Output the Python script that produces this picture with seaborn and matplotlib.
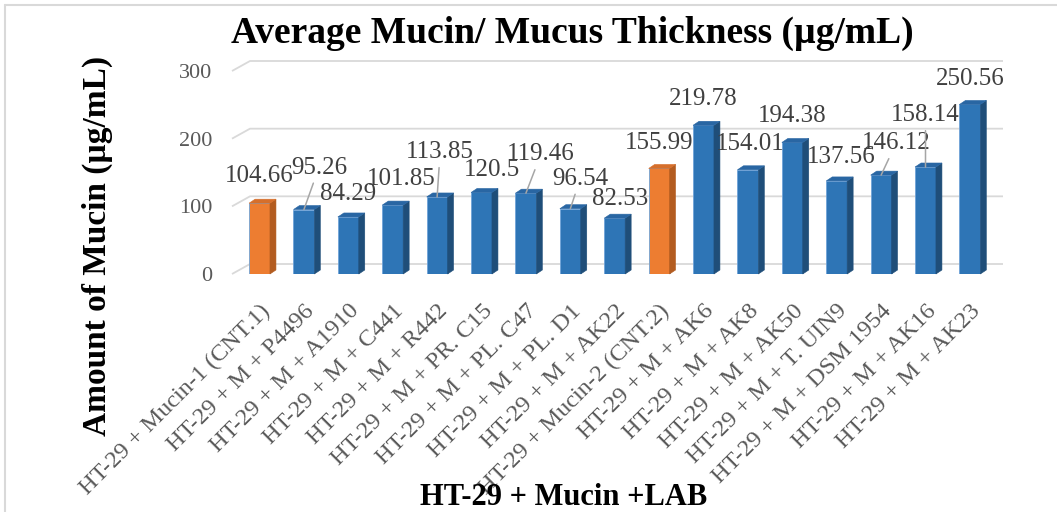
import matplotlib
matplotlib.use("Agg")
import matplotlib.pyplot as plt
import seaborn as sns
import pandas as pd
from matplotlib.patches import Polygon
from matplotlib.lines import Line2D

# ---- data ----
groups = [
    "HT-29 + Mucin-1 (CNT.1)", "HT-29 + M + P4496", "HT-29 + M + A1910",
    "HT-29 + M + C441", "HT-29 + M + R442", "HT-29 + M + PR. C15",
    "HT-29 + M + PL. C47", "HT-29 + M + PL. D1", "HT-29 + M + AK22",
    "HT-29 + Mucin-2 (CNT.2)", "HT-29 + M + AK6", "HT-29 + M + AK8",
    "HT-29 + M + AK50", "HT-29 + M + T. UIN9", "HT-29 + M + DSM 1954",
    "HT-29 + M + AK16", "HT-29 + M + AK23",
]
mucin = [104.66, 95.26, 84.29, 101.85, 113.85, 120.5, 119.46, 96.54, 82.53,
         155.99, 219.78, 154.01, 194.38, 137.56, 146.12, 158.14, 250.56]
is_control = [True, False, False, False, False, False, False, False, False,
              True, False, False, False, False, False, False, False]
y_ticks = [0, 100, 200, 300]

# ---- styling ----
BLUE = ("#2e75b6", "#1f4e79", "#2966a3")      # front, side, top
ORANGE = ("#ed7d31", "#b35c20", "#d66f2b")
GRID = "#d9d9d9"
TICK_C = "#595959"
LABEL_C = "#404040"

# label placement relative to each bar top (pixels) and whether a leader line is drawn
label_offsets = [(0, 27), (15, 42), (0, 23), (9, 26), (3, 45), (10, 22), (15, 39),
                 (10, 30), (5, 19), (0, 25), (0, 26), (2, 26), (0, 26), (5, 24),
                 (15, 32), (0, 52), (0, 25)]
leaders = [False, True, False, False, True, False, True, True, False, False,
           False, False, False, False, True, True, False]

sns.set_theme(style="white")
plt.rcParams["font.family"] = ["Liberation Serif", "DejaVu Serif"]

W, H, DPI = 1057, 512, 100
fig = plt.figure(figsize=(W / DPI, H / DPI), dpi=DPI)
fig.patch.set_facecolor("white")

ax_left, ax_right, ax_top, ax_bottom = 232, 985, 71, 274
ax = fig.add_axes([ax_left / W, (H - ax_bottom) / H,
                   (ax_right - ax_left) / W, (ax_bottom - ax_top) / H])

df = pd.DataFrame({"group": groups, "mucin": mucin})
palette = {g: (ORANGE[0] if c else BLUE[0]) for g, c in zip(groups, is_control)}
sns.barplot(data=df, x="group", y="mucin", hue="group", palette=palette,
            legend=False, width=0.47, saturation=1, ax=ax,
            edgecolor="#6fa3d8", linewidth=0.6, zorder=3)

XMIN, XMAX = -0.62, 16.34
ax.set_xlim(XMIN, XMAX)
ax.set_ylim(0, 300)

# pixel -> data conversion for the pseudo-3D depth
px_x = (XMAX - XMIN) / (ax_right - ax_left)
px_y = 300 / (ax_bottom - ax_top)

# back-wall gridlines with a slanted connector on the left
gdx, gdy = 18 * px_x, 10 * px_y
for yv in y_ticks:
    ax.plot([XMIN, XMIN + gdx, XMAX + gdx], [yv, yv + gdy, yv + gdy],
            color=GRID, lw=1.3, zorder=0.5, clip_on=False, solid_capstyle="butt")

# side and top faces of each column
ddx, ddy = 6 * px_x, 4 * px_y
for patch, ctrl in zip(ax.patches, is_control):
    cols = ORANGE if ctrl else BLUE
    x0 = patch.get_x()
    x1 = x0 + patch.get_width()
    h = patch.get_height()
    side = Polygon([(x1, 0), (x1 + ddx, ddy), (x1 + ddx, h + ddy), (x1, h)],
                   closed=True, facecolor=cols[1], edgecolor=cols[1], lw=0.4,
                   zorder=3, clip_on=False)
    top = Polygon([(x0, h), (x0 + ddx, h + ddy), (x1 + ddx, h + ddy), (x1, h)],
                  closed=True, facecolor=cols[2], edgecolor=cols[2], lw=0.4,
                  zorder=3, clip_on=False)
    ax.add_patch(side)
    ax.add_patch(top)

# value labels
for i, (v, (ox, oy), lead) in enumerate(zip(mucin, label_offsets, leaders)):
    kw = {}
    if lead:
        kw["arrowprops"] = dict(arrowstyle="-", color="#a6a6a6", lw=1.1,
                                shrinkA=1, shrinkB=0)
    ax.annotate(f"{v:g}", xy=(i, v), xytext=(ox, oy), textcoords="offset pixels",
                ha="center", va="center", fontsize=18, color=LABEL_C,
                zorder=5, annotation_clip=False, **kw)

for s in ax.spines.values():
    s.set_visible(False)
ax.grid(False)
ax.set_xlabel("")
ax.set_ylabel("")

ax.set_yticks(y_ticks)
ax.set_yticklabels([str(t) for t in y_ticks], fontsize=16, color=TICK_C)
ax.tick_params(axis="y", length=0, pad=14)

ax.set_xticks(range(len(groups)))
ax.set_xticklabels(groups, rotation=45, ha="right", va="top",
                   rotation_mode="anchor", fontsize=17.5, color=TICK_C)
ax.tick_params(axis="x", length=0, pad=19)

fig.text(572 / W, 1 - 33 / H, "Average Mucin/ Mucus Thickness (µg/mL)",
         ha="center", va="center", fontsize=27, fontweight="bold", color="black")
fig.text(564 / W, 1 - 505 / H, "HT-29 + Mucin +LAB", ha="center",
         va="baseline", fontsize=22, fontweight="bold", color="black")
fig.text(97 / W, 1 - 246 / H, "Amount of Mucin (µg/mL)", ha="center",
         va="center", rotation=90, fontsize=24, fontweight="bold", color="black")

# chart frame (left and top edges)
fig.add_artist(Line2D([5 / W, 5 / W], [0, 1 - 5 / H], transform=fig.transFigure,
                      color=GRID, lw=1.5))
fig.add_artist(Line2D([5 / W, 1], [1 - 5 / H, 1 - 5 / H], transform=fig.transFigure,
                      color=GRID, lw=1.5))

fig.savefig("out.png", dpi=DPI, facecolor="white")
